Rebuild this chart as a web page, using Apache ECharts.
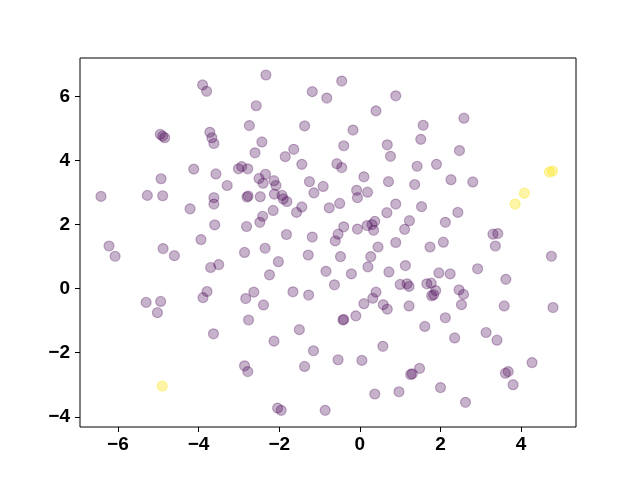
<!DOCTYPE html>
<html><head><meta charset="utf-8">
<script src="https://cdn.jsdelivr.net/npm/echarts@6/dist/echarts.min.js"></script>
<style>html,body{margin:0;padding:0;background:#fff}#c{width:640px;height:480px}</style>
</head><body><div id="c"></div>
<script>
// purple (class 0) points: [x, y]
const purpleX = [-3.90,-3.80,-4.95,-4.89,-4.84,-3.72,-3.67,-3.62,-2.74,-4.12,-3.57,-4.93,-2.93,-3.01,-2.78,-3.29,-6.42,-5.27,-4.89,-3.62,-3.62,-2.80,-2.77,-4.21,-3.60,-2.81,-3.94,-6.22,
-6.07,-4.88,-4.60,-2.86,-3.70,-3.50,-5.30,-4.94,-5.02,-3.79,-3.89,-2.83,-2.76,-3.63,-2.86,-2.78,
-2.33,-0.45,-1.18,-0.82,0.89,-2.57,0.40,-1.37,-0.17,-2.43,-2.60,-1.64,-1.85,-0.40,0.68,0.76,-1.44,-0.57,-0.45,-2.34,-2.50,-2.40,-2.13,-2.08,-1.25,-0.91,-1.14,0.10,0.71,-0.08,-0.06,0.19,1.42,1.36,-2.47,-2.12,-1.93,-1.90,-1.81,-2.15,-1.44,-1.57,-0.76,-0.50,0.89,0.67,1.23,1.11,-2.41,-2.48,-1.82,-1.18,-0.40,-0.54,-0.61,-0.06,0.18,0.30,0.37,0.34,0.45,0.89,-2.35,
2.58,1.57,1.51,2.47,1.90,2.26,2.80,1.53,2.43,2.12,3.30,3.42,1.74,2.07,3.36,
-2.02,-1.28,-0.48,0.27,1.13,-2.24,-0.84,-0.21,0.20,0.72,-0.63,-2.63,-1.66,-1.27,-2.39,-0.42,-0.40,-0.10,0.10,0.32,0.40,0.58,0.68,1.00,1.17,1.22,1.22,-1.50,-2.13,-1.15,-0.54,0.05,0.57,-1.37,1.26,1.30,0.37,0.97,-2.04,-1.95,-0.86,
4.75,2.92,1.96,2.24,3.62,1.66,1.77,1.88,1.78,1.83,2.46,2.57,2.52,3.58,4.79,2.12,1.61,2.35,3.13,3.40,4.27,3.61,3.68,3.80,1.48,2.00,2.62];
const purpleY = [6.36,6.16,4.82,4.76,4.71,4.88,4.71,4.53,5.09,3.73,3.58,3.43,3.81,3.74,3.74,3.22,2.88,2.91,2.90,2.84,2.64,2.86,2.89,2.49,1.99,1.94,1.53,1.33,
1.01,1.25,1.03,1.13,0.66,0.75,-0.43,-0.40,-0.75,-0.09,-0.28,-0.31,-0.98,-1.41,-2.41,-2.59,
6.67,6.48,6.15,5.95,6.02,5.71,5.55,5.08,4.95,4.58,4.24,4.35,4.12,4.46,4.49,4.13,3.88,3.90,3.78,3.57,3.44,3.29,3.37,3.22,3.34,3.19,2.99,3.49,3.34,3.07,2.84,3.01,3.82,3.25,2.87,2.95,2.91,2.80,2.72,2.44,2.55,2.38,2.52,2.66,2.64,2.37,2.12,1.85,2.26,2.07,1.69,1.61,1.93,1.70,1.49,1.86,1.97,2.00,2.10,1.82,1.30,1.44,1.26,
5.32,5.10,4.66,4.31,3.88,3.40,3.33,2.56,2.38,2.07,1.70,1.72,1.30,1.45,1.33,
0.84,1.05,1.00,1.00,0.72,0.43,0.54,0.46,0.68,0.52,0.12,-0.11,-0.10,-0.20,-0.51,-0.98,-0.96,-0.85,-0.47,-0.30,-0.11,-0.50,-0.64,0.13,0.15,0.07,-0.54,-1.28,-1.64,-1.94,-2.22,-2.24,-1.80,-2.43,-2.68,-2.66,-3.29,-3.22,-3.73,-3.80,-3.80,
1.01,0.62,0.49,0.46,0.29,0.15,0.17,-0.06,-0.22,-0.19,-0.04,-0.18,-0.50,-0.54,-0.59,-0.91,-1.18,-1.54,-1.37,-1.61,-2.31,-2.64,-2.59,-3.00,-2.49,-3.09,-3.55];
// yellow (class 1) points
const yellowX = [-4.90, 4.70, 4.78, 4.08, 3.85];
const yellowY = [-3.04, 3.64, 3.67, 2.98, 2.64];
const xTicks = [-6, -4, -2, 0, 2, 4];
const yTicks = [-4, -2, 0, 2, 4, 6];

const zip = (a, b) => a.map((v, i) => [v, b[i]]);
const chart = echarts.init(document.getElementById('c'), null, {renderer: 'canvas'});
const labelStyle = {color: '#000', fontFamily: 'Liberation Sans', fontWeight: 'bold', fontSize: 19};
const fmt = v => (v < 0 ? '\u2212' + (-v) : '' + v);
const mk = (data, color, op) => ({
  type: 'scatter', data, symbol: 'circle', symbolSize: 10,
  itemStyle: {color, opacity: op, borderColor: color, borderWidth: 1.2},
  emphasis: {disabled: true}, silent: true, animation: false
});
chart.setOption({
  animation: false,
  grid: {left: 80, right: 64, top: 58, bottom: 53, show: true, borderColor: '#000', borderWidth: 1, backgroundColor: 'transparent'},
  xAxis: {type: 'value', min: -6.94, max: 5.36, splitLine: {show: false},
    axisLine: {show: false, onZero: false},
    axisTick: {show: true, length: 5, lineStyle: {color: '#000', width: 1}, customValues: xTicks},
    axisLabel: Object.assign({margin: 8, customValues: xTicks, formatter: fmt}, labelStyle)},
  yAxis: {type: 'value', min: -4.32, max: 7.2, splitLine: {show: false},
    axisLine: {show: false, onZero: false},
    axisTick: {show: true, length: 5, lineStyle: {color: '#000', width: 1}, customValues: yTicks},
    axisLabel: Object.assign({margin: 10, customValues: yTicks, formatter: fmt}, labelStyle)},
  series: [mk(zip(purpleX, purpleY), '#440154', 0.3), mk(zip(yellowX, yellowY), '#fde725', 0.4)]
});
</script></body></html>
